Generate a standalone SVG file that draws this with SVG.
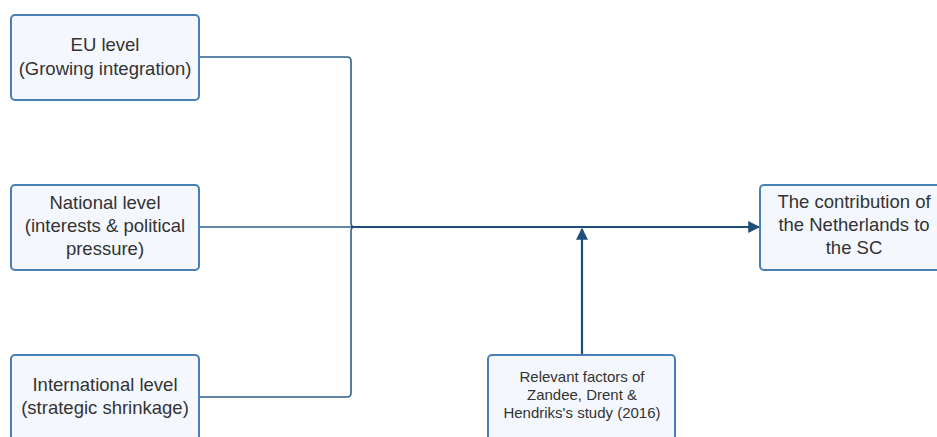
<svg xmlns="http://www.w3.org/2000/svg" width="937" height="437" viewBox="0 0 937 437">
<defs>
<style>
.box{fill:#f4f8fe;stroke:#4a7fb5;stroke-width:2}
.t{font-family:"Liberation Sans",Arial,sans-serif;font-size:18.5px;fill:#333;text-anchor:middle}
.s{font-family:"Liberation Sans",Arial,sans-serif;font-size:15px;fill:#333;text-anchor:middle}
.c{fill:none;stroke:#2f5f8a;stroke-width:1.6}
.m{fill:none;stroke:#1f4e79;stroke-width:2.2}
</style>
<marker id="ah2" viewBox="0 0 10 10" refX="9" refY="5" markerWidth="16" markerHeight="12" markerUnits="userSpaceOnUse" orient="auto">
<path d="M0,0 L10,5 L0,10 Z" fill="#1f4e79"/>
</marker>
</defs>
<g id="connectors">
<path class="c" d="M199,57 H347 Q351,57 351,61 V223 Q351,227 355,227"/>
<path class="c" d="M199,397 H347 Q351,397 351,393 V231 Q351,227 355,227"/>
<path class="c" d="M199,227 H351"/>
<path class="m" d="M351,227 H759" marker-end="url(#ah2)"/>
<path class="m" d="M582,355 V229" marker-end="url(#ah2)"/>
</g>
<g id="eu">
<rect class="box" x="11" y="15" width="188" height="85" rx="4"/>
<text class="t" x="105" y="51">EU level</text>
<text class="t" x="105" y="75">(Growing integration)</text>
</g>
<g id="national">
<rect class="box" x="11" y="185" width="188" height="85" rx="4"/>
<text class="t" x="105" y="209">National level</text>
<text class="t" x="105" y="232">(interests &amp; political</text>
<text class="t" x="105" y="255">pressure)</text>
</g>
<g id="international">
<rect class="box" x="11" y="355" width="188" height="85" rx="4"/>
<text class="t" x="105" y="391">International level</text>
<text class="t" x="105" y="414">(strategic shrinkage)</text>
</g>
<g id="factors">
<rect class="box" x="488" y="355" width="187" height="85" rx="4"/>
<text class="s" x="582" y="382">Relevant factors of</text>
<text class="s" x="582" y="400">Zandee, Drent &amp;</text>
<text class="s" x="582" y="418">Hendriks's study (2016)</text>
</g>
<g id="contribution">
<rect class="box" x="760" y="185" width="188" height="85" rx="4"/>
<text class="t" x="854" y="208">The contribution of</text>
<text class="t" x="854" y="231">the Netherlands to</text>
<text class="t" x="854" y="254">the SC</text>
</g>
</svg>
